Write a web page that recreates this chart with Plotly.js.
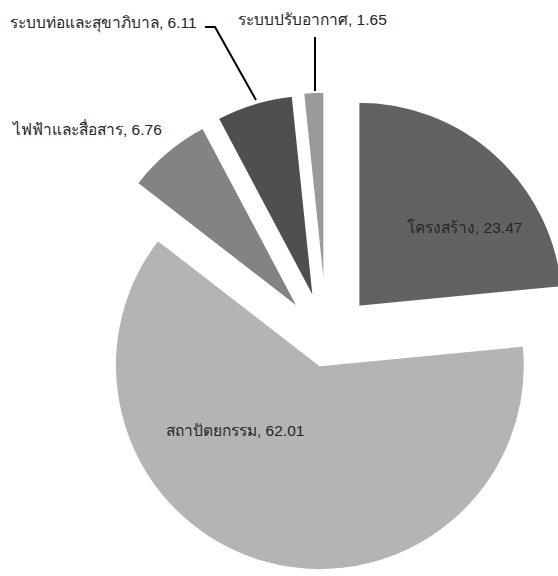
<!DOCTYPE html>
<html>
<head>
<meta charset="utf-8">
<script src="https://cdn.plot.ly/plotly-3.0.1.min.js"></script>
<style>
html,body{margin:0;padding:0;overflow:hidden;background:#fff;width:558px;height:576px;}
#chart{width:620px;height:600px;}
</style>
</head>
<body>
<div id="chart"></div>
<script>
// ---- data ----
var categories = ['โครงสร้าง', 'สถาปัตยกรรม', 'ไฟฟ้าและสื่อสาร', 'ระบบท่อและสุขาภิบาล', 'ระบบปรับอากาศ'];
var values = [23.47, 62.01, 6.76, 6.11, 1.65];
var sliceColors = ['#626262', '#b4b4b4', '#838383', '#4f4f4f', '#9a9a9a'];
var pulls = [0.23, 0.12, 0.21, 0.215, 0.22];

// ---- layout helpers (pixel -> paper) ----
var W = 620, H = 600;
function px(x){ return x / W; }
function py(y){ return 1 - y / H; }

var cx = 326.7, cy = 341.6, half = 252;
var domainX = [px(cx - half), px(cx + half)];
var domainY = [py(cy + half), py(cy - half)];

function labelText(i){ return categories[i] + ', ' + values[i].toFixed(2); }

var font = {family: 'Liberation Sans, Arial, sans-serif', size: 15.5, color: '#262626'};

var labelPos = [
  {x: 464.5, y: 227, xanchor: 'center'},
  {x: 235, y: 430, xanchor: 'center'},
  {x: 9, y: 128, xanchor: 'left'},
  {x: 8, y: 23, xanchor: 'left'},
  {x: 236, y: 20, xanchor: 'left'}
];

var annotations = categories.map(function(c, i){
  return {
    xref: 'paper', yref: 'paper',
    x: px(labelPos[i].x), y: py(labelPos[i].y),
    xanchor: labelPos[i].xanchor, yanchor: 'middle',
    text: labelText(i), showarrow: false, font: font
  };
});

var shapes = [
  {type: 'path', xref: 'paper', yref: 'paper',
   path: 'M ' + px(205) + ' ' + py(27) + ' L ' + px(215) + ' ' + py(27) + ' L ' + px(256) + ' ' + py(100),
   line: {color: '#000', width: 2}},
  {type: 'line', xref: 'paper', yref: 'paper',
   x0: px(315), y0: py(37), x1: px(315), y1: py(91),
   line: {color: '#000', width: 2}}
];

var trace = {
  type: 'pie',
  labels: categories,
  values: values,
  sort: false,
  direction: 'clockwise',
  rotation: 0,
  pull: pulls,
  textinfo: 'none',
  hoverinfo: 'label+value',
  marker: {colors: sliceColors, line: {color: '#ffffff', width: 2}},
  domain: {x: domainX, y: domainY},
  showlegend: false
};

var layout = {
  width: W, height: H,
  margin: {l: 0, r: 0, t: 0, b: 0},
  paper_bgcolor: '#ffffff',
  showlegend: false,
  annotations: annotations,
  shapes: shapes
};

Plotly.newPlot('chart', [trace], layout, {displayModeBar: false, staticPlot: true});
</script>
</body>
</html>
